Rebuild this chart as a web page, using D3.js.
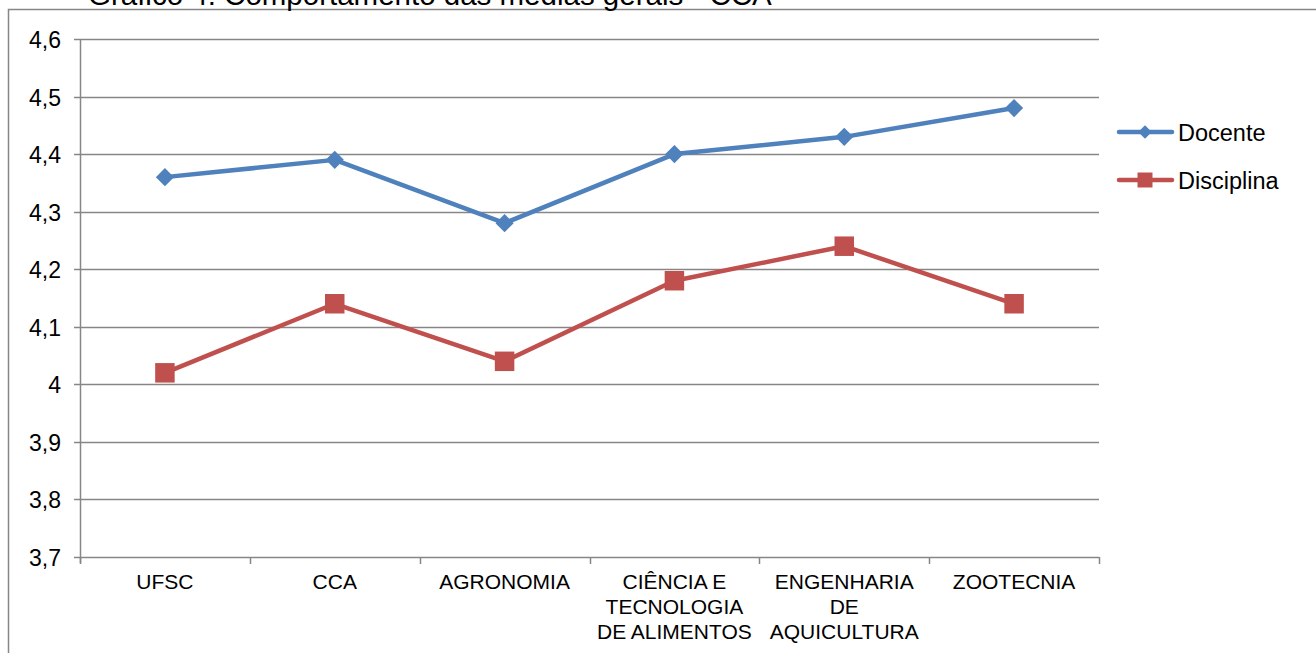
<!DOCTYPE html>
<html>
<head>
<meta charset="utf-8">
<script src="https://cdn.jsdelivr.net/npm/d3@7/dist/d3.min.js"></script>
<style>
  html, body { margin: 0; padding: 0; background: #fff; }
  svg { display: block; }
  text { font-family: "Liberation Sans", Arial, sans-serif; fill: #000; }
</style>
</head>
<body>
<svg id="chart" width="1316" height="653"></svg>
<script>
const categories = ["UFSC", "CCA", "AGRONOMIA", "CIÊNCIA E\nTECNOLOGIA\nDE ALIMENTOS", "ENGENHARIA\nDE\nAQUICULTURA", "ZOOTECNIA"];
const docente = [4.36, 4.39, 4.28, 4.40, 4.43, 4.48];
const disciplina = [4.02, 4.14, 4.04, 4.18, 4.24, 4.14];
const yTicks = [3.7, 3.8, 3.9, 4.0, 4.1, 4.2, 4.3, 4.4, 4.5, 4.6];
const seriesNames = ["Docente", "Disciplina"];
const title = "Gráfico 4: Comportamento das médias gerais - CCA";

(function () {
const svg = d3.select("#chart");
const W = 1316, H = 653;
const pL = 80, pR = 1099, pT = 39, pB = 557;
const gridColor = "#868686";
const colors = ["#4F81BD", "#C0504D"];

// outer frame
svg.append("path")
  .attr("d", `M8.5,${H + 5} V9.5 H${W + 5}`)
  .attr("fill", "none").attr("stroke", gridColor).attr("stroke-width", 1.5);

// title (cut off at top, as in the reference)
svg.append("text").attr("x", 88).attr("y", 5)
  .style("font-size", "29.5px").text(title);

const x = d3.scaleBand().domain(categories).range([pL, pR]).padding(0);
const y = d3.scaleLinear().domain([3.7, 4.6]).range([pB, pT]);
const fmt = v => (Math.round(v * 10) / 10).toString().replace(".", ",");

// gridlines
svg.append("g").selectAll("line").data(yTicks).join("line")
  .attr("x1", pL - 6).attr("x2", pR)
  .attr("y1", d => Math.round(y(d)) + 0.5).attr("y2", d => Math.round(y(d)) + 0.5)
  .attr("stroke", gridColor).attr("stroke-width", 1.5);

// y axis line
svg.append("line").attr("x1", pL + 0.5).attr("x2", pL + 0.5)
  .attr("y1", pT).attr("y2", pB + 6)
  .attr("stroke", gridColor).attr("stroke-width", 1.5);

// y labels
svg.append("g").selectAll("text").data(yTicks).join("text")
  .attr("x", pL - 19).attr("y", d => y(d) + 1)
  .attr("text-anchor", "end").attr("dominant-baseline", "central")
  .style("font-size", "23px").text(fmt);

// x ticks
const tickX = categories.map(c => x(c)).concat([x(categories[categories.length - 1]) + x.bandwidth()]);
svg.append("g").selectAll("line").data(tickX).join("line")
  .attr("x1", d => Math.round(d) + 0.5).attr("x2", d => Math.round(d) + 0.5)
  .attr("y1", pB).attr("y2", pB + 7)
  .attr("stroke", gridColor).attr("stroke-width", 1.5);

// x labels
const xl = svg.append("g").selectAll("text").data(categories).join("text")
  .attr("x", d => x(d) + x.bandwidth() / 2).attr("y", 589)
  .attr("text-anchor", "middle").style("font-size", "21px");
xl.each(function(d) {
  const t = d3.select(this);
  d.split("\n").forEach((ln, i) => {
    t.append("tspan").attr("x", x(d) + x.bandwidth() / 2).attr("dy", i === 0 ? 0 : 25).text(ln);
  });
});

const cx = i => x(categories[i]) + x.bandwidth() / 2;
const line = d3.line().x((d, i) => cx(i)).y(d => y(d));
const allSeries = [docente, disciplina];

allSeries.forEach((s, k) => {
  svg.append("path").datum(s).attr("d", line)
    .attr("fill", "none").attr("stroke", colors[k]).attr("stroke-width", 4.5)
    .attr("stroke-linejoin", "round").attr("stroke-linecap", "round");
});

// markers
svg.append("g").selectAll("path").data(docente).join("path")
  .attr("d", d3.symbol().type(d3.symbolSquare).size(165)())
  .attr("transform", (d, i) => `translate(${cx(i)},${y(d)}) rotate(45)`)
  .attr("fill", colors[0]);
svg.append("g").selectAll("path").data(disciplina).join("path")
  .attr("d", d3.symbol().type(d3.symbolSquare).size(380)())
  .attr("transform", (d, i) => `translate(${cx(i)},${y(d)})`)
  .attr("fill", colors[1]);

// legend
const lg = svg.append("g");
seriesNames.forEach((n, k) => {
  const yy = 132 + k * 48;
  lg.append("line").attr("x1", 1119).attr("x2", 1172).attr("y1", yy).attr("y2", yy)
    .attr("stroke", colors[k]).attr("stroke-width", 4.5).attr("stroke-linecap", "round");
  if (k === 0) {
    lg.append("path").attr("d", d3.symbol().type(d3.symbolSquare).size(90)())
      .attr("transform", `translate(1145,${yy}) rotate(45)`).attr("fill", colors[k]);
  } else {
    lg.append("path").attr("d", d3.symbol().type(d3.symbolSquare).size(225)())
      .attr("transform", `translate(1145,${yy})`).attr("fill", colors[k]);
  }
  lg.append("text").attr("x", 1178).attr("y", yy + 1).attr("dominant-baseline", "central")
    .style("font-size", "23.5px").text(n);
});
})();
</script>
</body>
</html>
